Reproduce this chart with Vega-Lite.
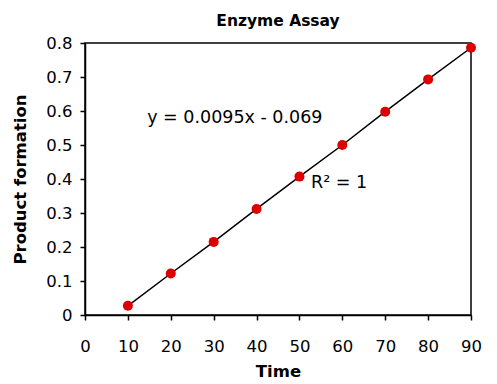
{
  "$schema": "https://vega.github.io/schema/vega-lite/v6.json",
  "width": 386,
  "height": 272,
  "autosize": {"type": "none"},
  "padding": {"left": 85, "top": 43, "right": 26, "bottom": 69},
  "background": "white",
  "title": {"text": "Enzyme Assay", "font": "DejaVu Sans", "fontSize": 15.5, "fontWeight": "bold", "color": "black", "offset": 6, "anchor": "middle"},
  "config": {
    "view": {"stroke": "black", "strokeWidth": 1.5},
    "axis": {"grid": false, "domainColor": "black", "tickColor": "black", "labelColor": "black", "titleColor": "black", "labelFont": "DejaVu Sans", "titleFont": "DejaVu Sans", "labelFontSize": 16.5, "titleFontSize": 16.5, "titleFontWeight": "bold", "tickSize": 5, "domainWidth": 1.5, "tickWidth": 1.5}
  },
  "datasets": {
    "points": [
      {"Time": 10, "Product": 0.027},
      {"Time": 20, "Product": 0.122},
      {"Time": 30, "Product": 0.215},
      {"Time": 40, "Product": 0.312},
      {"Time": 50, "Product": 0.407},
      {"Time": 60, "Product": 0.500},
      {"Time": 70, "Product": 0.598},
      {"Time": 80, "Product": 0.693},
      {"Time": 90, "Product": 0.786}
    ],
    "labels": [
      {"Time": 14.5, "Product": 0.579, "label": "y = 0.0095x - 0.069"},
      {"Time": 52.7, "Product": 0.388, "label": "R² = 1"}
    ]
  },
  "encoding": {
    "x": {"field": "Time", "type": "quantitative", "scale": {"domain": [0, 90]}, "axis": {"values": [0,10,20,30,40,50,60,70,80,90], "labelOverlap": false, "labelBound": false, "labelFlush": false, "labelPadding": 18, "titlePadding": 9, "title": "Time"}},
    "y": {"field": "Product", "type": "quantitative", "scale": {"domain": [0, 0.8], "nice": false}, "axis": {"values": [0,0.1,0.2,0.3,0.4,0.5,0.6,0.7,0.8], "labelOverlap": false, "labelBound": false, "labelFlush": false, "labelPadding": 8, "titlePadding": 17, "title": "Product formation", "labelExpr": "datum.value == 0 ? '0' : format(datum.value, '.1f')"}}
  },
  "layer": [
    {
      "data": {"name": "points"},
      "mark": {"type": "line", "color": "black", "strokeWidth": 1.5}
    },
    {
      "data": {"name": "points"},
      "mark": {"type": "circle", "color": "#dd0000", "opacity": 1, "size": 100}
    },
    {
      "data": {"name": "labels"},
      "mark": {"type": "text", "align": "left", "baseline": "middle", "font": "DejaVu Sans", "fontSize": 17.5, "color": "black"},
      "encoding": {
        "text": {"field": "label"}
      }
    }
  ]
}
